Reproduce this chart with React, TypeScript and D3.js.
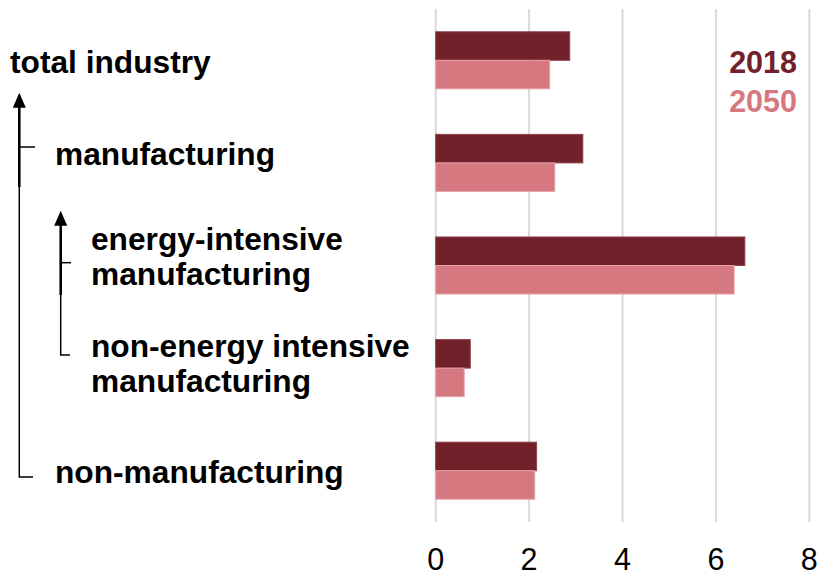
import React from "react";
import * as d3 from "d3";

const categories = [
  "total industry",
  "manufacturing",
  "energy-intensive manufacturing",
  "non-energy intensive manufacturing",
  "non-manufacturing",
];
const series = ["2018", "2050"];
const values2018 = [2.87, 3.15, 6.62, 0.74, 2.16];
const values2050 = [2.44, 2.55, 6.39, 0.61, 2.12];
const xTicks = [0, 2, 4, 6, 8];

const labelLines: string[][] = [
  ["total industry"],
  ["manufacturing"],
  ["energy-intensive", "manufacturing"],
  ["non-energy intensive", "manufacturing"],
  ["non-manufacturing"],
];

const W = 819;
const H = 573;
const colors = ["#722029", "#d67880"];
const strokes = ["#8e4049", "#e5a3a9"];
const font = "'Liberation Sans', Arial, Helvetica, sans-serif";

export default function App() {
  const x = d3.scaleLinear().domain([0, 8]).range([435.7, 809.3]);
  const y = d3
    .scaleBand<string>()
    .domain(categories)
    .range([9, 522])
    .paddingInner(0.444)
    .paddingOuter(0.222);
  const ys = d3.scaleBand<string>().domain(series).range([0, y.bandwidth()]);
  const data = [values2018, values2050];

  const labelX = [10, 55, 91, 91, 55];
  const labelBaseline = [73, 165, 250, 357, 483];
  const lineGap = 35;

  const arrow = (xc: number, tip: number) =>
    `M${xc},${tip} L${xc - 6.5},${tip + 15} L${xc + 6.5},${tip + 15} Z`;

  return (
    <svg
      width={W}
      height={H}
      style={{ position: "absolute", left: 0, top: 0, background: "#fff" }}
    >
      {/* gridlines */}
      {xTicks.map((t) => (
        <line
          key={"g" + t}
          x1={x(t)}
          x2={x(t)}
          y1={9}
          y2={522}
          stroke="#d9d9d9"
          strokeWidth={2}
        />
      ))}
      {/* bars */}
      {categories.map((c, i) =>
        series.map((s, j) => (
          <rect
            key={c + s}
            x={x(0)}
            y={(y(c) as number) + (ys(s) as number)}
            width={x(data[j][i]) - x(0)}
            height={ys.bandwidth()}
            fill={colors[j]}
            stroke={strokes[j]}
            strokeWidth={1}
          />
        ))
      )}
      {/* tick labels */}
      {xTicks.map((t) => (
        <text
          key={"t" + t}
          x={x(t)}
          y={570}
          textAnchor="middle"
          fontFamily={font}
          fontSize={30.5}
          fill="#000"
        >
          {t}
        </text>
      ))}
      {/* legend */}
      {series.map((s, j) => (
        <text
          key={"l" + s}
          x={797}
          y={73 + j * 39}
          textAnchor="end"
          fontFamily={font}
          fontWeight="bold"
          fontSize={30.5}
          fill={colors[j]}
        >
          {s}
        </text>
      ))}
      {/* category labels */}
      {labelLines.map((lines, i) => (
        <text
          key={"c" + i}
          fontFamily={font}
          fontWeight="bold"
          fontSize={31.7}
          fill="#000"
        >
          {lines.map((ln, k) => (
            <tspan key={k} x={labelX[i]} y={labelBaseline[i] + k * lineGap}>
              {ln}
            </tspan>
          ))}
        </text>
      ))}
      {/* outer bracket */}
      <g stroke="#000" fill="none">
        <path d="M33,477 L19.3,477 L19.3,105" strokeWidth={1.5} />
        <line x1={19.3} x2={19.3} y1={187} y2={105} strokeWidth={2.5} />
        <line x1={19.3} x2={35} y1={147} y2={147} strokeWidth={1.5} />
        <path d="M70,355 L60.7,355 L60.7,223" strokeWidth={1.5} />
        <line x1={60.7} x2={60.7} y1={295} y2={223} strokeWidth={2.5} />
        <line x1={60.7} x2={71} y1={262.7} y2={262.7} strokeWidth={1.5} />
      </g>
      <path d={arrow(19.3, 92.7)} fill="#000" />
      <path d={arrow(60.7, 210.7)} fill="#000" />
    </svg>
  );
}
